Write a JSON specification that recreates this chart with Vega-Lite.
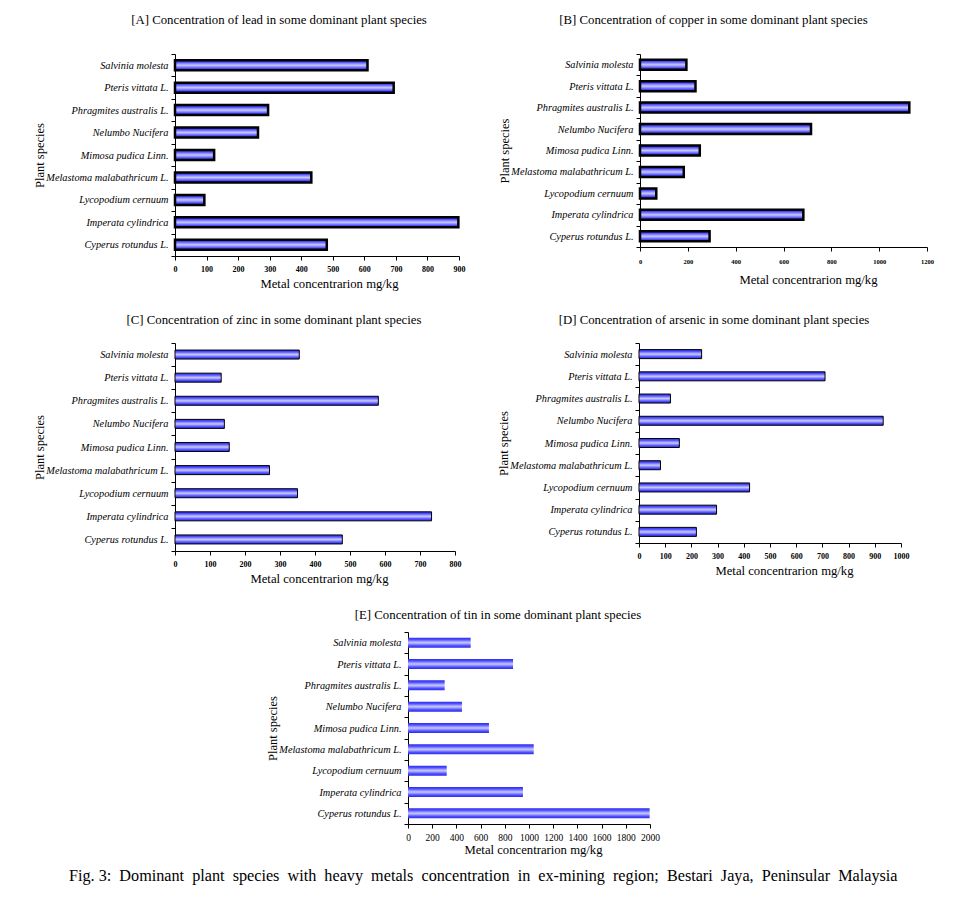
{
  "$schema": "https://vega.github.io/schema/vega-lite/v6.json",
  "background": "white",
  "padding": {"top": 14, "left": 33, "right": 5, "bottom": 5},
  "title": {"text": "Fig. 3: \u00a0Dominant \u00a0plant \u00a0species \u00a0with \u00a0heavy \u00a0metals \u00a0concentration \u00a0in \u00a0ex-mining \u00a0region; \u00a0Bestari \u00a0Jaya, \u00a0Peninsular \u00a0Malaysia", "orient": "bottom", "anchor": "middle", "font": "Liberation Serif", "fontSize": 16.2, "fontWeight": "normal", "color": "black", "offset": 12},
  "datasets": {
    "lead": [
      {"species": "Salvinia molesta", "value": 610},
      {"species": "Pteris vittata L.", "value": 693},
      {"species": "Phragmites australis L.", "value": 295},
      {"species": "Nelumbo Nucifera", "value": 263},
      {"species": "Mimosa pudica Linn.", "value": 124},
      {"species": "Melastoma malabathricum L.", "value": 432},
      {"species": "Lycopodium cernuum", "value": 93},
      {"species": "Imperata cylindrica", "value": 898},
      {"species": "Cyperus rotundus L.", "value": 481}
    ],
    "copper": [
      {"species": "Salvinia molesta", "value": 194},
      {"species": "Pteris vittata L.", "value": 232},
      {"species": "Phragmites australis L.", "value": 1126},
      {"species": "Nelumbo Nucifera", "value": 715},
      {"species": "Mimosa pudica Linn.", "value": 250},
      {"species": "Melastoma malabathricum L.", "value": 183},
      {"species": "Lycopodium cernuum", "value": 68},
      {"species": "Imperata cylindrica", "value": 683},
      {"species": "Cyperus rotundus L.", "value": 291}
    ],
    "zinc": [
      {"species": "Salvinia molesta", "value": 355},
      {"species": "Pteris vittata L.", "value": 132},
      {"species": "Phragmites australis L.", "value": 581},
      {"species": "Nelumbo Nucifera", "value": 141},
      {"species": "Mimosa pudica Linn.", "value": 155},
      {"species": "Melastoma malabathricum L.", "value": 270},
      {"species": "Lycopodium cernuum", "value": 350},
      {"species": "Imperata cylindrica", "value": 733},
      {"species": "Cyperus rotundus L.", "value": 478}
    ],
    "arsenic": [
      {"species": "Salvinia molesta", "value": 239},
      {"species": "Pteris vittata L.", "value": 710},
      {"species": "Phragmites australis L.", "value": 120},
      {"species": "Nelumbo Nucifera", "value": 932},
      {"species": "Mimosa pudica Linn.", "value": 154},
      {"species": "Melastoma malabathricum L.", "value": 82},
      {"species": "Lycopodium cernuum", "value": 422},
      {"species": "Imperata cylindrica", "value": 296},
      {"species": "Cyperus rotundus L.", "value": 219}
    ],
    "tin": [
      {"species": "Salvinia molesta", "value": 518},
      {"species": "Pteris vittata L.", "value": 868},
      {"species": "Phragmites australis L.", "value": 303},
      {"species": "Nelumbo Nucifera", "value": 446},
      {"species": "Mimosa pudica Linn.", "value": 669},
      {"species": "Melastoma malabathricum L.", "value": 1039},
      {"species": "Lycopodium cernuum", "value": 320},
      {"species": "Imperata cylindrica", "value": 950},
      {"species": "Cyperus rotundus L.", "value": 1997}
    ]
  },
  "spacing": 24,
  "vconcat": [
    {
      "spacing": 33,
      "hconcat": [
        {
          "title": {"text": "[A] Concentration of lead in some dominant plant species", "frame": "group", "dx": -38, "offset": 22},
          "width": 284, "height": 202,
          "data": {"name": "lead"},
          "mark": {"type": "bar", "height": 10, "stroke": "black", "strokeWidth": 2.5,
            "fill": {"gradient": "linear", "x1": 0, "y1": 0, "x2": 0, "y2": 1, "stops": [{"offset": 0, "color": "#2a2aee"}, {"offset": 0.2, "color": "#5050ff"}, {"offset": 0.38, "color": "#9c9cff"}, {"offset": 0.5, "color": "#c8c8ff"}, {"offset": 0.62, "color": "#9c9cff"}, {"offset": 0.8, "color": "#5050ff"}, {"offset": 1, "color": "#2a2aee"}]}},
          "encoding": {
            "y": {"field": "species", "type": "nominal", "sort": ["Salvinia molesta", "Pteris vittata L.", "Phragmites australis L.", "Nelumbo Nucifera", "Mimosa pudica Linn.", "Melastoma malabathricum L.", "Lycopodium cernuum", "Imperata cylindrica", "Cyperus rotundus L."], "scale": {"paddingInner": 0, "paddingOuter": 0}, "axis": {"title": "Plant species"}},
            "x": {"field": "value", "type": "quantitative", "scale": {"domain": [0, 900], "nice": false}, "axis": {"title": "Metal concentrarion mg/kg", "format": "d", "values": [0, 100, 200, 300, 400, 500, 600, 700, 800, 900], "titleX": 154}}
          }
        },
        {
          "title": {"text": "[B] Concentration of copper in some dominant plant species", "frame": "group", "dx": -70, "offset": 22},
          "width": 287, "height": 193,
          "data": {"name": "copper"},
          "mark": {"type": "bar", "height": 10, "stroke": "black", "strokeWidth": 2.5,
            "fill": {"gradient": "linear", "x1": 0, "y1": 0, "x2": 0, "y2": 1, "stops": [{"offset": 0, "color": "#2a2aee"}, {"offset": 0.2, "color": "#5050ff"}, {"offset": 0.38, "color": "#9c9cff"}, {"offset": 0.5, "color": "#c8c8ff"}, {"offset": 0.62, "color": "#9c9cff"}, {"offset": 0.8, "color": "#5050ff"}, {"offset": 1, "color": "#2a2aee"}]}},
          "encoding": {
            "y": {"field": "species", "type": "nominal", "sort": ["Salvinia molesta", "Pteris vittata L.", "Phragmites australis L.", "Nelumbo Nucifera", "Mimosa pudica Linn.", "Melastoma malabathricum L.", "Lycopodium cernuum", "Imperata cylindrica", "Cyperus rotundus L."], "scale": {"paddingInner": 0, "paddingOuter": 0}, "axis": {"title": "Plant species"}},
            "x": {"field": "value", "type": "quantitative", "scale": {"domain": [0, 1200], "nice": false}, "axis": {"title": "Metal concentrarion mg/kg", "format": "d", "values": [0, 200, 400, 600, 800, 1000, 1200], "titleX": 168, "labelFontSize": 6.5, "labelPadding": 7, "titlePadding": 9}}
          }
        }
      ]
    },
    {
      "spacing": 36,
      "hconcat": [
        {
          "title": {"text": "[C] Concentration of zinc in some dominant plant species", "frame": "group", "dx": -41, "offset": 11},
          "width": 280, "height": 208,
          "data": {"name": "zinc"},
          "mark": {"type": "bar", "height": 9, "stroke": "black", "strokeWidth": 1,
            "fill": {"gradient": "linear", "x1": 0, "y1": 0, "x2": 0, "y2": 1, "stops": [{"offset": 0, "color": "#2a2aee"}, {"offset": 0.2, "color": "#5050ff"}, {"offset": 0.38, "color": "#9c9cff"}, {"offset": 0.5, "color": "#c8c8ff"}, {"offset": 0.62, "color": "#9c9cff"}, {"offset": 0.8, "color": "#5050ff"}, {"offset": 1, "color": "#2a2aee"}]}},
          "encoding": {
            "y": {"field": "species", "type": "nominal", "sort": ["Salvinia molesta", "Pteris vittata L.", "Phragmites australis L.", "Nelumbo Nucifera", "Mimosa pudica Linn.", "Melastoma malabathricum L.", "Lycopodium cernuum", "Imperata cylindrica", "Cyperus rotundus L."], "scale": {"paddingInner": 0, "paddingOuter": 0}, "axis": {"title": "Plant species"}},
            "x": {"field": "value", "type": "quantitative", "scale": {"domain": [0, 800], "nice": false}, "axis": {"title": "Metal concentrarion mg/kg", "format": "d", "values": [0, 100, 200, 300, 400, 500, 600, 700, 800], "titleX": 144}}
          }
        },
        {
          "title": {"text": "[D] Concentration of arsenic in some dominant plant species", "frame": "group", "dx": -56, "offset": 11},
          "width": 262, "height": 200,
          "data": {"name": "arsenic"},
          "mark": {"type": "bar", "height": 9, "stroke": "black", "strokeWidth": 1,
            "fill": {"gradient": "linear", "x1": 0, "y1": 0, "x2": 0, "y2": 1, "stops": [{"offset": 0, "color": "#2a2aee"}, {"offset": 0.2, "color": "#5050ff"}, {"offset": 0.38, "color": "#9c9cff"}, {"offset": 0.5, "color": "#c8c8ff"}, {"offset": 0.62, "color": "#9c9cff"}, {"offset": 0.8, "color": "#5050ff"}, {"offset": 1, "color": "#2a2aee"}]}},
          "encoding": {
            "y": {"field": "species", "type": "nominal", "sort": ["Salvinia molesta", "Pteris vittata L.", "Phragmites australis L.", "Nelumbo Nucifera", "Mimosa pudica Linn.", "Melastoma malabathricum L.", "Lycopodium cernuum", "Imperata cylindrica", "Cyperus rotundus L."], "scale": {"paddingInner": 0, "paddingOuter": 0}, "axis": {"title": "Plant species"}},
            "x": {"field": "value", "type": "quantitative", "scale": {"domain": [0, 1000], "nice": false}, "axis": {"title": "Metal concentrarion mg/kg", "format": "d", "values": [0, 100, 200, 300, 400, 500, 600, 700, 800, 900, 1000], "titleX": 145}}
          }
        }
      ]
    },
    {
      "spacing": 10,
      "hconcat": [
        {
          "width": 81, "height": 10,
          "data": {"values": [{}]},
          "mark": {"type": "text", "text": ""},
          "encoding": {}
        },
        {
          "title": {"text": "[E] Concentration of tin in some dominant plant species", "frame": "group", "dx": -31, "offset": 5},
          "width": 242, "height": 192,
          "data": {"name": "tin"},
          "mark": {"type": "bar", "height": 10, "strokeWidth": 0,
            "fill": {"gradient": "linear", "x1": 0, "y1": 0, "x2": 0, "y2": 1, "stops": [{"offset": 0, "color": "#2a2aee"}, {"offset": 0.2, "color": "#5050ff"}, {"offset": 0.38, "color": "#9c9cff"}, {"offset": 0.5, "color": "#c8c8ff"}, {"offset": 0.62, "color": "#9c9cff"}, {"offset": 0.8, "color": "#5050ff"}, {"offset": 1, "color": "#2a2aee"}]}},
          "encoding": {
            "y": {"field": "species", "type": "nominal", "sort": ["Salvinia molesta", "Pteris vittata L.", "Phragmites australis L.", "Nelumbo Nucifera", "Mimosa pudica Linn.", "Melastoma malabathricum L.", "Lycopodium cernuum", "Imperata cylindrica", "Cyperus rotundus L."], "scale": {"paddingInner": 0, "paddingOuter": 0}, "axis": {"title": "Plant species"}},
            "x": {"field": "value", "type": "quantitative", "scale": {"domain": [0, 2000], "nice": false}, "axis": {"title": "Metal concentrarion mg/kg", "format": "d", "values": [0, 200, 400, 600, 800, 1000, 1200, 1400, 1600, 1800, 2000], "titleX": 125, "labelFontSize": 9.5, "labelFontWeight": "normal", "labelPadding": 4, "titlePadding": 2}}
          }
        }
      ]
    }
  ],
  "config": {
    "view": {"stroke": null},
    "font": "Liberation Serif",
    "title": {"font": "Liberation Serif", "fontSize": 12.8, "fontWeight": "normal", "color": "black", "anchor": "middle"},
    "axisY": {"domainColor": "black", "domainWidth": 1, "tickColor": "black", "tickSize": 4, "tickBand": "extent", "grid": false, "labelFont": "Liberation Serif", "labelFontStyle": "italic", "labelFontSize": 10.3, "labelColor": "black", "labelPadding": 3, "labelLimit": 200, "minExtent": 126, "maxExtent": 126, "titleFont": "Liberation Serif", "titleFontSize": 12.5, "titleFontWeight": "normal", "titleColor": "black", "titlePadding": 3},
    "axisX": {"domainColor": "black", "domainWidth": 1, "tickColor": "black", "tickSize": 4, "grid": false, "labelFont": "Liberation Serif", "labelFontSize": 8, "labelFontWeight": "bold", "labelColor": "black", "labelPadding": 5, "labelFlush": false, "titleFont": "Liberation Serif", "titleFontSize": 12.7, "titleFontWeight": "normal", "titleColor": "black", "titlePadding": 4}
  }
}
